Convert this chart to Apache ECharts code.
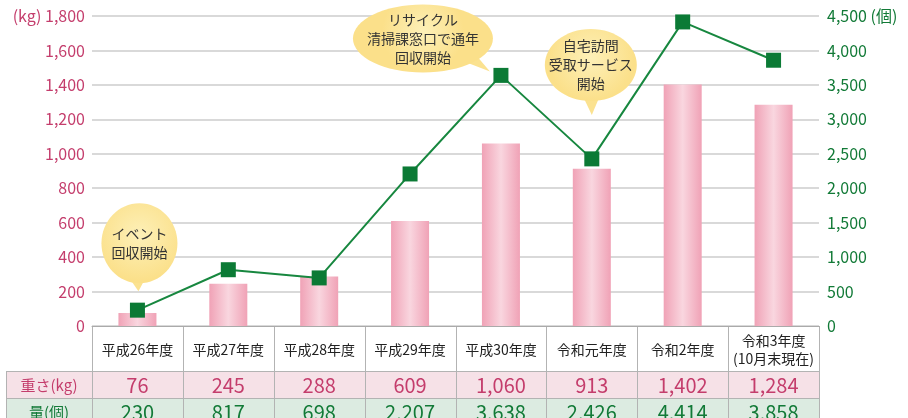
<!DOCTYPE html>
<html><head><meta charset="utf-8">
<script src="https://cdn.jsdelivr.net/npm/echarts@6/dist/echarts.min.js"></script>
<style>html,body{margin:0;padding:0;background:#fff}#c{width:908px;height:418px}</style>
</head><body><div id="c"></div>
<script>
var categories = ['平成26年度','平成27年度','平成28年度','平成29年度','平成30年度','令和元年度','令和2年度','令和3年度\n(10月末現在)'];
var weightKg = [76, 245, 288, 609, 1060, 913, 1402, 1284];
var countPcs = [230, 817, 698, 2207, 3638, 2426, 4414, 3858];
var rowLabels = ['重さ(kg)', '量(個)'];
var notes = [
  {idx: 0, text: 'イベント\n回収開始'},
  {idx: 4, text: 'リサイクル\n清掃課窓口で通年\n回収開始'},
  {idx: 5, text: '自宅訪問\n受取サービス\n開始'}
];

var FONT = '"Noto Sans CJK JP","Noto Sans",sans-serif';
var PINK = '#c43d6c', GREEN = '#127a37';
function fmt(v){ return Number(v).toLocaleString('en-US'); }

var chart = echarts.init(document.getElementById('c'));
chart.setOption({
  animation: false,
  grid: {left: 92, right: 89, top: 16, bottom: 92},
  xAxis: {
    type: 'category', data: categories,
    axisLine: {show: true, lineStyle: {color: '#aaaaaa', width: 1}},
    axisTick: {show: false}, axisLabel: {show: false}
  },
  yAxis: [{
    type: 'value', min: 0, max: 1800, interval: 200,
    axisLine: {show: false}, axisTick: {show: false},
    axisLabel: {margin: 7, color: PINK, fontSize: 16, fontFamily: FONT,
      formatter: function(v){ return v === 1800 ? '(kg) ' + fmt(v) : fmt(v); }},
    splitLine: {lineStyle: {color: '#cccccc', width: 1.5}}
  }, {
    type: 'value', min: 0, max: 4500, interval: 500,
    axisLine: {show: false}, axisTick: {show: false},
    axisLabel: {margin: 8, color: GREEN, fontSize: 16, fontFamily: FONT,
      formatter: function(v){ return v === 4500 ? fmt(v) + ' (個)' : fmt(v); }},
    splitLine: {show: false}
  }],
  series: [{
    type: 'bar', data: weightKg, barWidth: 38, yAxisIndex: 0,
    itemStyle: {color: {type: 'linear', x: 0, y: 0, x2: 1, y2: 0,
      colorStops: [{offset: 0, color: '#f0a2b6'}, {offset: 0.5, color: '#f9d6df'}, {offset: 1, color: '#f0a2b6'}]}}
  }, {
    type: 'line', data: countPcs, yAxisIndex: 1, z: 5,
    symbol: 'rect', symbolSize: 15,
    lineStyle: {color: '#17873f', width: 2},
    itemStyle: {color: '#0b7a35'}
  }]
});

// Table and annotations computed from the chart's scales
var g = [];
var x0 = chart.convertToPixel({xAxisIndex: 0}, 0);
var x1 = chart.convertToPixel({xAxisIndex: 0}, 1);
var colW = x1 - x0;
var yBase = chart.convertToPixel({yAxisIndex: 0}, 0);
var left = x0 - colW / 2;
var n = categories.length;
var right = left + colW * n;
var hTop = yBase, hBot = yBase + 45, r1Bot = hBot + 27, r2Bot = r1Bot + 27;
var labLeft = 6;
var BORDER = '#b3b3b3';

g.push({type: 'rect', shape: {x: labLeft, y: hBot, width: right - labLeft, height: r1Bot - hBot}, style: {fill: '#f6e1e7'}});
g.push({type: 'rect', shape: {x: labLeft, y: r1Bot, width: right - labLeft, height: r2Bot - r1Bot}, style: {fill: '#dcebe1'}});
// horizontal lines
[[left, hTop], [labLeft, hBot], [labLeft, r1Bot]].forEach(function(p){
  g.push({type: 'line', shape: {x1: p[0], y1: p[1] + 0.5, x2: right, y2: p[1] + 0.5}, style: {stroke: BORDER, lineWidth: 1}});
});
// vertical lines
for (var i = 0; i <= n; i++) {
  var xx = Math.round(left + colW * i) + 0.5;
  g.push({type: 'line', shape: {x1: xx, y1: hTop, x2: xx, y2: r2Bot}, style: {stroke: BORDER, lineWidth: 1}});
}
g.push({type: 'line', shape: {x1: labLeft + 0.5, y1: hBot, x2: labLeft + 0.5, y2: r2Bot}, style: {stroke: BORDER, lineWidth: 1}});

// row labels
g.push({type: 'text', style: {text: rowLabels[0], x: (labLeft + left) / 2, y: (hBot + r1Bot) / 2 + 1, align: 'center', verticalAlign: 'middle', font: '15px ' + FONT, fill: PINK}});
g.push({type: 'text', style: {text: rowLabels[1], x: (labLeft + left) / 2, y: (r1Bot + r2Bot) / 2 + 1, align: 'center', verticalAlign: 'middle', font: '15px ' + FONT, fill: GREEN}});

for (var i = 0; i < n; i++) {
  var cx = chart.convertToPixel({xAxisIndex: 0}, i);
  g.push({type: 'text', style: {text: categories[i], x: cx, y: (hTop + hBot) / 2 + 1, align: 'center', verticalAlign: 'middle', font: '14px ' + FONT, fill: '#222', lineHeight: 18}});
  g.push({type: 'text', style: {text: fmt(weightKg[i]), x: cx, y: (hBot + r1Bot) / 2 + 1, align: 'center', verticalAlign: 'middle', font: '20px ' + FONT, fill: PINK}});
  g.push({type: 'text', style: {text: fmt(countPcs[i]), x: cx, y: (r1Bot + r2Bot) / 2 + 1, align: 'center', verticalAlign: 'middle', font: '20px ' + FONT, fill: GREEN}});
}

// callout bubbles (offsets relative to the data point)
var bubbleLayout = [
  {dx: 2, dy: -67, rx: 38, ry: 40, tail: [[-8, -32], [8, -32], [1, -19]]},
  {dx: -78, dy: -37, rx: 70, ry: 34, tail: [[-42, -16], [-28, -24], [-11, -4]]},
  {dx: -1, dy: -94, rx: 46, ry: 36, tail: [[-9, -63], [8, -63], [0, -44]]}
];
notes.forEach(function(nt, k){
  var p = chart.convertToPixel({xAxisIndex: 0, yAxisIndex: 1}, [nt.idx, countPcs[nt.idx]]);
  var L = bubbleLayout[k];
  var fill = {type: 'radial', x: 0.5, y: 0.4, r: 0.6,
    colorStops: [{offset: 0, color: '#fdf0b8'}, {offset: 1, color: '#fbe08a'}]};
  g.push({type: 'polygon', z: 10, shape: {points: L.tail.map(function(t){ return [p[0] + t[0], p[1] + t[1]]; })}, style: {fill: '#fbe290'}});
  g.push({type: 'ellipse', z: 10, shape: {cx: p[0] + L.dx, cy: p[1] + L.dy, rx: L.rx, ry: L.ry}, style: {fill: fill}});
  g.push({type: 'text', z: 11, style: {text: nt.text, x: p[0] + L.dx, y: p[1] + L.dy, align: 'center', verticalAlign: 'middle', font: '14px ' + FONT, fill: '#333', lineHeight: 19}});
});

chart.setOption({graphic: g});
</script>
</body></html>
